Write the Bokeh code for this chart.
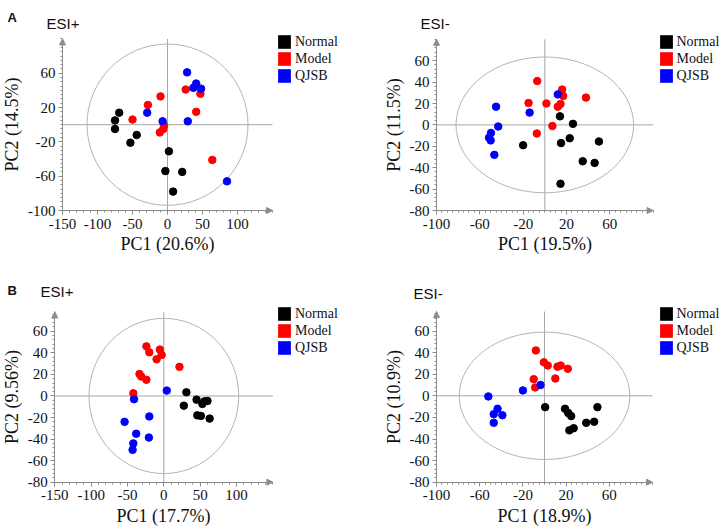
from bokeh.plotting import figure
from bokeh.models import (Arrow, NormalHead, Label, Legend, LegendItem, FixedTicker,
                          Range1d, LinearAxis)
from bokeh.layouts import row, column
from bokeh.embed import file_html
from bokeh.resources import INLINE

GROUPS = ["Normal", "Model", "QJSB"]
COLORS = ["#000000", "#ff0000", "#0000ff"]

# ---- Panel A, ESI+ ----
a_pos_normal_x = [-75, -69, -75, -44, -53, 2, -3, 21, 8]
a_pos_normal_y = [5, 14, -5, -12, -21, -31, -54, -55, -78]
a_pos_model_x = [-50, -28, -10, -5, -6, -11, 26, 47, 41, 64]
a_pos_model_y = [6, 23, 33, -1, -5, -9, 41, 36, 15, -41]
a_pos_qjsb_x = [28, 41, 37, 48, -29, -7, 29, 85]
a_pos_qjsb_y = [61, 48, 43, 42, 14, 4, 4, -66]

# ---- Panel A, ESI- ----
a_neg_normal_x = [14, 26, -20, 15, 23, 50, 35, 46, 14.5]
a_neg_normal_y = [8, 1, -19, -17, -12.5, -15.5, -34, -35.5, -55]
a_neg_model_x = [-7, -15, 1.5, 16, 17, 14.5, 12, 38, 7, -7.4]
a_neg_model_y = [41, 20.5, 20, 33, 27, 19.6, 17, 25.5, -1, -8]
a_neg_qjsb_x = [12, -45, -14, -43, -49.7, -51.5, -50, -46.6]
a_neg_qjsb_y = [28.5, 17, 11.5, -1.5, -7.5, -12, -14.5, -28]

# ---- Panel B, ESI+ ----
b_pos_normal_x = [31, 27.5, 45, 53, 60, 56, 46, 51, 63]
b_pos_normal_y = [3.4, -9, -3.4, -7.4, -4.6, -5, -18, -18.5, -21]
b_pos_model_x = [-24, -20, -5.5, -3, -10, 21.5, -33.5, -31, -24, -42]
b_pos_model_y = [46, 40.5, 43, 38, 34, 27, 20.4, 18, 15, 2.5]
b_pos_qjsb_x = [4, -41, -20, -54, -38, -20.6, -42, -43]
b_pos_qjsb_y = [5, -3, -19, -24, -35, -38.6, -44, -50]

# ---- Panel B, ESI- ----
b_neg_normal_x = [0.6, 19, 22, 24.7, 23, 27, 38.6, 46, 49]
b_neg_normal_y = [-10.5, -12, -16, -18.8, -32, -30, -25, -24, -10.5]
b_neg_model_x = [-8, -0.6, 3, 12, 15, 21.6, -10, 10, -8.6]
b_neg_model_y = [42, 31, 28, 27, 28, 25, 15.4, 16, 7.7]
b_neg_qjsb_x = [-3.7, -20, -52, -43.5, -47, -39, -47]
b_neg_qjsb_y = [10, 5, -0.6, -12, -17, -18, -25]

# axis ticks
pos_x_ticks = [-150, -100, -50, 0, 50, 100]
a_pos_y_ticks = [-100, -60, -20, 20, 60]
neg_x_ticks = [-100, -60, -20, 20, 60]
b_y_ticks = [-80, -60, -40, -20, 0, 20, 40, 60]

# axis extents (start, end)
a_pos_bounds = ((-150, 150), (-100, 100))
a_neg_bounds = ((-100, 100), (-80, 80))
b_pos_bounds = ((-150, 150), (-80, 78))
b_neg_bounds = ((-100, 100), (-80, 78))

# Hotelling T2 ellipse half-axes
a_pos_ellipse = (115, 94)
a_neg_ellipse = (82, 63.5)
b_pos_ellipse = (103, 72)
b_neg_ellipse = (79, 59)

# axis labels
a_pos_labels = ("PC1 (20.6%)", "PC2 (14.5%)")
a_neg_labels = ("PC1 (19.5%)", "PC2 (11.5%)")
b_pos_labels = ("PC1 (17.7%)", "PC2 (9.56%)")
b_neg_labels = ("PC1 (18.9%)", "PC2 (10.9%)")

SERIF = "Liberation Serif"
SANS = "Liberation Sans"
AXIS_GRAY = "#8c8c8c"
H = 265
ITEM_H = 17
NAN = float("nan")


def minor(lo, hi, step):
    out = []
    v = lo
    while v <= hi + 1e-9:
        out.append(round(v, 6))
        v += step
    return out


def panel(W, geom, bounds, xticks, yticks, xminor_step, yminor_step,
          labels, ell, series, letter, letter_xy, title, title_xy, legend_xy):
    # geom: pixel position of the axes on the canvas and pixels per data unit
    px, sx, py, sy = geom
    (bx0, bx1), (by0, by1) = bounds
    x_start = bx0 - px / sx
    x_end = bx0 + (W - px) / sx
    y_end = by0 + py / sy
    y_start = by0 - (H - py) / sy

    p = figure(width=W, height=H, output_backend="svg", toolbar_location=None,
               x_range=Range1d(x_start, x_end), y_range=Range1d(y_start, y_end),
               x_axis_location=None, y_axis_location=None,
               min_border=0, min_border_left=0, min_border_right=0,
               min_border_top=0, min_border_bottom=0)
    p.title.visible = False
    p.outline_line_color = None
    p.xgrid.visible = False
    p.ygrid.visible = False

    xaxis = LinearAxis(fixed_location=by0, bounds=(bx0, bx1),
                       ticker=FixedTicker(ticks=xticks, minor_ticks=minor(bx0, bx1, xminor_step)),
                       major_label_overrides={t: str(t) for t in xticks},
                       axis_label=labels[0])
    yaxis = LinearAxis(fixed_location=bx0, bounds=(by0, by1),
                       ticker=FixedTicker(ticks=yticks, minor_ticks=minor(by0, by1, yminor_step)),
                       major_label_overrides={t: str(t) for t in yticks},
                       axis_label=labels[1])
    for ax in (xaxis, yaxis):
        ax.axis_line_color = AXIS_GRAY
        ax.major_tick_line_color = AXIS_GRAY
        ax.minor_tick_line_color = AXIS_GRAY
        ax.major_tick_in = 0
        ax.major_tick_out = 4
        ax.minor_tick_in = 0
        ax.minor_tick_out = 2
        ax.major_label_text_font = SERIF
        ax.major_label_text_font_size = "15px"
        ax.major_label_text_color = "#111111"
        ax.axis_label_text_font = SERIF
        ax.axis_label_text_font_size = "18px"
        ax.axis_label_text_font_style = "normal"
        ax.axis_label_text_color = "#111111"
    xaxis.major_label_standoff = 4
    xaxis.axis_label_standoff = 2
    yaxis.major_label_standoff = 3
    yaxis.axis_label_standoff = 3
    p.add_layout(xaxis, "below")
    p.add_layout(yaxis, "left")

    # arrow heads at axis ends
    p.add_layout(Arrow(end=NormalHead(size=6, fill_color=AXIS_GRAY, line_color=AXIS_GRAY),
                       x_start=bx1 - 2, y_start=by0, x_end=bx1, y_end=by0,
                       line_color=AXIS_GRAY, line_width=1))
    p.add_layout(Arrow(end=NormalHead(size=6, fill_color=AXIS_GRAY, line_color=AXIS_GRAY),
                       x_start=bx0, y_start=by1 - 2, x_end=bx0, y_end=by1,
                       line_color=AXIS_GRAY, line_width=1))

    # cross lines through the origin, spanning the axis extents
    p.segment(x0=[bx0, 0], y0=[0, by0], x1=[bx1, 0], y1=[0, by1],
              line_color="#a6a6a6", line_width=1)

    # ellipse
    p.ellipse(x=[0], y=[0], width=[2 * ell[0]], height=[2 * ell[1]],
              fill_color=None, line_color="#b4b4b4", line_width=1)

    items = []
    for (xs, ys), name, color in zip(series, GROUPS, COLORS):
        p.scatter(xs, ys, size=7.5, fill_color=color, line_color=color)
        # legend-only square swatch (no visible mark in the plot)
        swatch = p.quad(left=[NAN], right=[NAN], top=[NAN], bottom=[NAN],
                        fill_color=color, line_color=None)
        items.append(LegendItem(label=name, renderers=[swatch]))

    lx, ly = legend_xy
    leg = Legend(items=items, location=(lx, H - (ly + 3 * ITEM_H)), orientation="vertical",
                 glyph_width=16, glyph_height=ITEM_H, label_height=16, label_width=20,
                 spacing=0, padding=0, margin=0, label_standoff=3,
                 label_text_font=SERIF, label_text_font_size="14px", label_text_color="#111111",
                 border_line_color=None, background_fill_alpha=0)
    p.add_layout(leg, "center")

    if letter:
        p.add_layout(Label(x=letter_xy[0], y=H - letter_xy[1], x_units="screen", y_units="screen",
                           text=letter, text_font=SANS, text_font_style="bold",
                           text_font_size="13px", text_baseline="alphabetic",
                           text_color="#111111"))
    p.add_layout(Label(x=title_xy[0], y=H - title_xy[1], x_units="screen", y_units="screen",
                       text=title, text_font=SANS, text_font_size="15px",
                       text_baseline="alphabetic", text_color="#111111"))
    return p


WL, WR = 360, 362

p1 = panel(WL, (62, 0.70, 210, 0.858), a_pos_bounds, pos_x_ticks, a_pos_y_ticks, 10, 5,
           a_pos_labels, a_pos_ellipse,
           [(a_pos_normal_x, a_pos_normal_y), (a_pos_model_x, a_pos_model_y), (a_pos_qjsb_x, a_pos_qjsb_y)],
           "A", (7, 16.7), "ESI+", (46, 22.5), (276, 33.3))
p2 = panel(WR, (76, 1.083, 210, 1.07), a_neg_bounds, neg_x_ticks, b_y_ticks, 5, 4,
           a_neg_labels, a_neg_ellipse,
           [(a_neg_normal_x, a_neg_normal_y), (a_neg_model_x, a_neg_model_y), (a_neg_qjsb_x, a_neg_qjsb_y)],
           None, None, "ESI-", (60, 22.5), (297.5, 33.3))
p3 = panel(WL, (54.3, 0.727, 216.7, 1.078), b_pos_bounds, pos_x_ticks, b_y_ticks, 10, 4,
           b_pos_labels, b_pos_ellipse,
           [(b_pos_normal_x, b_pos_normal_y), (b_pos_model_x, b_pos_model_y), (b_pos_qjsb_x, b_pos_qjsb_y)],
           "B", (7, 25), "ESI+", (40, 26), (276, 40))
p4 = panel(WR, (76, 1.08, 216.7, 1.08), b_neg_bounds, neg_x_ticks, b_y_ticks, 5, 4,
           b_neg_labels, b_neg_ellipse,
           [(b_neg_normal_x, b_neg_normal_y), (b_neg_model_x, b_neg_model_y), (b_neg_qjsb_x, b_neg_qjsb_y)],
           None, None, "ESI-", (53, 27.5), (297.5, 40))

layout = column(row(p1, p2, spacing=0), row(p3, p4, spacing=0), spacing=0)
open("out.html", "w").write(file_html(layout, INLINE))
